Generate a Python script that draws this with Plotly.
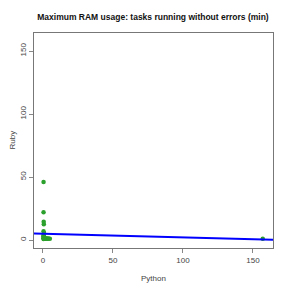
import numpy as np
import plotly.graph_objects as go

# Data (Python vs Ruby max RAM, min)
python_vals = [0.5, 0.5, 0.6, 0.7, 0.5, 0.8, 1.0, 1.2, 1.5, 2.0, 2.5, 3.0, 3.5, 4.0, 5.0,
               0.6, 0.7, 0.9, 1.1, 1.4, 0.5, 0.6, 0.8, 1.0, 0.5, 0.7, 0.9, 0.6, 0.5, 0.8, 157.0]
ruby_vals = [46.0, 22.0, 14.5, 12.5, 7.0, 5.5, 2.0, 1.5, 1.0, 1.0, 1.2, 1.0, 1.0, 1.2, 1.0,
             2.5, 3.0, 1.5, 2.0, 1.0, 4.0, 1.5, 1.0, 2.0, 0.8, 1.0, 1.5, 3.5, 2.5, 1.0, 1.0]
tick_vals = [0, 50, 100, 150]

x = np.array(python_vals)
y = np.array(ruby_vals)
slope, intercept = np.polyfit(x, y, 1)

lo = 0 - 0.04 * 158
hi = 158 + 0.04 * 158
fit_x = np.array([lo, hi])
fit_y = intercept + slope * fit_x

FONT = "Liberation Sans, Arial"

fig = go.Figure()
fig.add_trace(go.Scatter(x=x, y=y, mode="markers",
                         marker=dict(color="#2ca02c", size=4.5, line=dict(width=0)),
                         showlegend=False))
fig.add_trace(go.Scatter(x=fit_x, y=fit_y, mode="lines",
                         line=dict(color="#0000ff", width=2), showlegend=False))

axis_common = dict(
    range=[lo, hi], tickvals=tick_vals, ticks="outside", ticklen=4, tickcolor="#888",
    showline=True, linecolor="#777", linewidth=1.3, mirror=True, showgrid=False,
    zeroline=False, automargin=False,
    tickfont=dict(family=FONT, size=8, color="#444"),
)
fig.update_xaxes(**axis_common)
fig.update_yaxes(**axis_common, tickangle=-90)

fig.update_layout(
    width=291, height=291,
    margin=dict(l=34, r=18, t=33, b=43, autoexpand=False),
    paper_bgcolor="white", plot_bgcolor="white",
    title=dict(text="<b>Maximum RAM usage: tasks running without errors (min)</b>",
               x=153 / 291, xanchor="center", y=1 - 17 / 291, yanchor="middle",
               font=dict(family=FONT, size=8.5, color="#111")),
    annotations=[
        dict(text="Python", xref="paper", yref="paper", x=0.5, y=-30 / 215,
             xanchor="center", yanchor="middle", showarrow=False,
             font=dict(family=FONT, size=8, color="#444")),
        dict(text="Ruby", xref="paper", yref="paper", x=-22 / 239.5, y=0.5,
             xanchor="center", yanchor="middle", textangle=-90, showarrow=False,
             font=dict(family=FONT, size=8, color="#444")),
    ],
)
fig.write_html("out.html", config={"displayModeBar": False},
               post_script="document.body.style.margin='0';document.body.style.overflow='hidden';")
